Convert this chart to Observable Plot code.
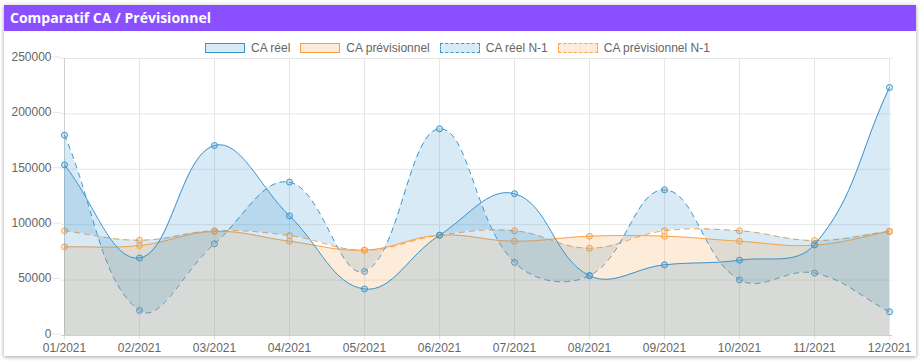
<!DOCTYPE html>
<html><head><meta charset="utf-8">
<script src="https://cdn.jsdelivr.net/npm/d3@7"></script>
<script src="https://cdn.jsdelivr.net/npm/@observablehq/plot@0.6"></script>
<style>
body{margin:0;background:#fff;width:924px;height:363px;overflow:hidden;position:relative;font-family:"Liberation Sans",Arial,sans-serif;}
#card{position:absolute;left:4px;top:5px;width:912px;height:351px;background:#fff;box-shadow:0 1px 4px rgba(0,0,0,0.38);}
#hdr{position:absolute;left:4px;top:5px;width:912px;height:26px;background:#8a4fff;color:#fff;font:700 14px "Open Sans",sans-serif;line-height:26px;padding-left:6px;box-sizing:border-box;}
#legend{position:absolute;left:205px;top:41px;display:flex;align-items:center;font-size:12px;color:#666;white-space:nowrap;}
#legend .it{display:flex;align-items:center;margin-right:10px;}
#legend .bx{width:38px;height:8px;margin-right:6px;}
#chart{position:absolute;left:0;top:50px;}
</style></head>
<body>
<div id="card"></div>
<div id="hdr">Comparatif CA / Prévisionnel</div>
<div id="legend"></div>
<div id="chart"></div>
<script>
const months = ["01/2021","02/2021","03/2021","04/2021","05/2021","06/2021","07/2021","08/2021","09/2021","10/2021","11/2021","12/2021"];
const caReel = [154000,70000,171500,108000,42000,90500,128000,54000,63800,68000,82000,223800];
const caPrev = [80000,81200,93900,85100,77000,90500,85100,89600,89600,85100,81500,93900];
const caReelN1 = [180800,22600,82800,138400,57800,186500,65900,54000,131500,50200,56300,21400];
const caPrevN1 = [94500,86000,94500,90200,77000,90500,94500,78800,94500,94500,85700,94000];
const yTicks = [0,50000,100000,150000,200000,250000];
const seriesNames = ["CA réel","CA prévisionnel","CA réel N-1","CA prévisionnel N-1"];

const BLUE = "rgb(62,149,205)";
const ORANGE = "rgb(250,162,72)";
const BLUE_A = "rgba(62,149,205,0.2)";
const ORANGE_A = "rgba(250,162,72,0.2)";

const data = months.map((m,i)=>({month:m, reel:caReel[i], prev:caPrev[i], reelN1:caReelN1[i], prevN1:caPrevN1[i]}));

// Chart.js-like spline (tension 0.4) as a d3 curve factory
const T = 0.4;
function chartjsCurve(context){
  let xs, ys, line;
  return {
    areaStart(){ line = 0; },
    areaEnd(){ line = NaN; },
    lineStart(){ xs = []; ys = []; },
    point(x,y){ xs.push(+x); ys.push(+y); },
    lineEnd(){
      const n = xs.length;
      if (n) {
        if (line) context.lineTo(xs[0], ys[0]); else context.moveTo(xs[0], ys[0]);
        const cp = [];
        for (let i = 0; i < n; i++) {
          const pi = i > 0 ? i - 1 : i, ni = i < n - 1 ? i + 1 : i;
          const d01 = Math.hypot(xs[i]-xs[pi], ys[i]-ys[pi]);
          const d12 = Math.hypot(xs[ni]-xs[i], ys[ni]-ys[i]);
          let s01 = d01/(d01+d12), s12 = d12/(d01+d12);
          if (isNaN(s01)) s01 = 0; if (isNaN(s12)) s12 = 0;
          const fa = T*s01, fb = T*s12;
          cp.push({px: xs[i]-fa*(xs[ni]-xs[pi]), py: ys[i]-fa*(ys[ni]-ys[pi]),
                   nx: xs[i]+fb*(xs[ni]-xs[pi]), ny: ys[i]+fb*(ys[ni]-ys[pi])});
        }
        for (let i = 1; i < n; i++) context.bezierCurveTo(cp[i-1].nx, cp[i-1].ny, cp[i].px, cp[i].py, xs[i], ys[i]);
      }
      if (line || (line !== 0 && n === 1)) context.closePath();
      line = 1 - line;
    }
  };
}

// legend
const legendDefs = [
  {name: seriesNames[0], c: BLUE, a: BLUE_A, dash: false},
  {name: seriesNames[1], c: ORANGE, a: ORANGE_A, dash: false},
  {name: seriesNames[2], c: BLUE, a: BLUE_A, dash: true},
  {name: seriesNames[3], c: ORANGE, a: ORANGE_A, dash: true}
];
const lg = document.getElementById("legend");
for (const d of legendDefs) {
  const it = document.createElement("div"); it.className = "it";
  const bx = document.createElement("div"); bx.className = "bx";
  bx.style.background = d.a; bx.style.border = `1px ${d.dash ? "dashed" : "solid"} ${d.c}`;
  const tx = document.createElement("span"); tx.textContent = d.name;
  it.appendChild(bx); it.appendChild(tx); lg.appendChild(it);
}

const grid = "#e6e6e6";
const chart = Plot.plot({
  width: 924, height: 310,
  marginLeft: 61, marginRight: 32, marginTop: 8, marginBottom: 25,
  style: {fontFamily: '"Liberation Sans", Arial, sans-serif', fontSize: "12px", color: "#666", background: "transparent", overflow: "visible"},
  x: {type: "point", domain: months, padding: 0, label: null},
  y: {domain: [0, 250000], label: null},
  marks: [
    Plot.gridY(yTicks, {stroke: grid, strokeOpacity: 1}),
    Plot.gridX({stroke: grid, strokeOpacity: 1}),
    Plot.axisY({ticks: yTicks, tickFormat: d3.format("d"), tickSize: 8, tickPadding: 2, dy: -1.5, stroke: grid, strokeOpacity: 1, fill: "#666", label: null}),
    Plot.axisX({tickSize: 5, tickPadding: 3, stroke: grid, strokeOpacity: 1, fill: "#666", label: null}),
    Plot.ruleX([months[0]], {stroke: "#cfcfcf"}),
    Plot.ruleY([0], {stroke: "#cfcfcf"}),
    // CA prévisionnel N-1 (no fill)
    Plot.lineY(data, {x: "month", y: "prevN1", curve: chartjsCurve, stroke: ORANGE, strokeWidth: 1, strokeDasharray: "5,5"}),
    Plot.dot(data, {x: "month", y: "prevN1", r: 3, stroke: ORANGE, fill: ORANGE_A, strokeWidth: 1}),
    // CA réel N-1 filled to CA prévisionnel N-1
    Plot.areaY(data, {x: "month", y1: "reelN1", y2: "prevN1", curve: chartjsCurve, fill: BLUE, fillOpacity: 0.2}),
    Plot.lineY(data, {x: "month", y: "reelN1", curve: chartjsCurve, stroke: BLUE, strokeWidth: 1, strokeDasharray: "5,5"}),
    Plot.dot(data, {x: "month", y: "reelN1", r: 3, stroke: BLUE, fill: BLUE_A, strokeWidth: 1}),
    // CA prévisionnel filled to origin
    Plot.areaY(data, {x: "month", y: "prev", curve: chartjsCurve, fill: ORANGE, fillOpacity: 0.2}),
    Plot.lineY(data, {x: "month", y: "prev", curve: chartjsCurve, stroke: ORANGE, strokeWidth: 1}),
    Plot.dot(data, {x: "month", y: "prev", r: 3, stroke: ORANGE, fill: ORANGE_A, strokeWidth: 1}),
    // CA réel filled to origin
    Plot.areaY(data, {x: "month", y: "reel", curve: chartjsCurve, fill: BLUE, fillOpacity: 0.2}),
    Plot.lineY(data, {x: "month", y: "reel", curve: chartjsCurve, stroke: BLUE, strokeWidth: 1}),
    Plot.dot(data, {x: "month", y: "reel", r: 3, stroke: BLUE, fill: BLUE_A, strokeWidth: 1})
  ]
});
document.getElementById("chart").appendChild(chart);
</script>
</body></html>
